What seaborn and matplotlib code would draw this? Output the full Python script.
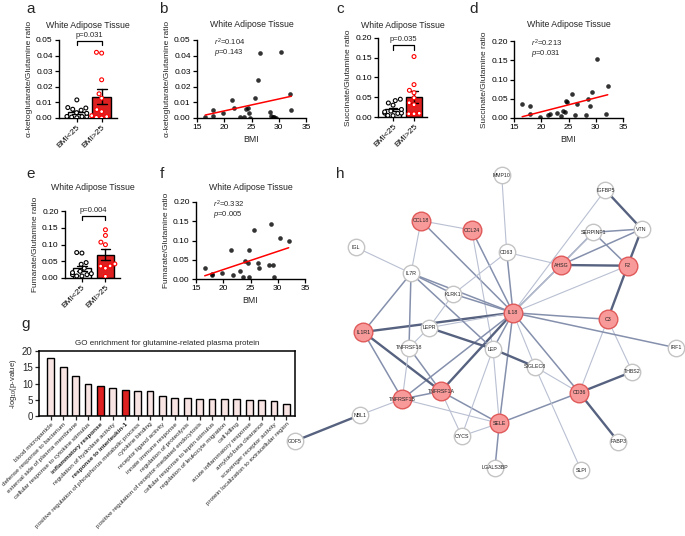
import numpy as np
import pandas as pd
import matplotlib
matplotlib.use("Agg")
import matplotlib.pyplot as plt
from matplotlib.ticker import FormatStrFormatter
import seaborn as sns

sns.set_theme(style="ticks")
plt.rcParams["font.family"] = ["Liberation Sans", "DejaVu Sans"]
plt.rcParams["mathtext.fontset"] = "custom"
plt.rcParams["mathtext.rm"] = "Liberation Sans"
plt.rcParams["mathtext.it"] = "Liberation Sans:italic"

# ---------------- Data ----------------
# alpha-ketoglutarate / glutamine (panels a, b)
akg_bmi = [16.5, 17.9, 17.9, 19.7, 21.4, 21.7, 22.8, 23.6, 24.0, 24.4, 24.6, 24.8,
           25.7, 26.2, 26.5, 28.4, 28.6, 28.9, 29.2, 29.5, 30.4, 32.0, 32.3]
akg_ratio = [0.0009, 0.005, 0.001, 0.003, 0.0116, 0.0064, 0.0009, 0.0006, 0.0056, 0.0067, 0.0034, 0.0002,
             0.0127, 0.0245, 0.0416, 0.0041, 0.0015, 0.0009, 0.0004, 0.0, 0.0421, 0.0155, 0.0054]

# succinate / glutamine (panels c, d)
suc_bmi = [16.5, 18.0, 18.0, 19.7, 21.3, 21.6, 22.8, 23.6, 23.9, 24.4, 24.5,
           24.7, 25.6, 26.2, 26.5, 28.2, 28.5, 29.0, 29.3, 30.3, 31.8, 32.2]
suc_ratio = [0.0355, 0.030, 0.010, 0.0035, 0.009, 0.010, 0.013, 0.004, 0.019, 0.015, 0.045,
             0.0415, 0.0615, 0.008, 0.036, 0.008, 0.0485, 0.031, 0.0675, 0.153, 0.0095, 0.082]

# fumarate / glutamine (panels e, f)
fum_bmi = [16.6, 18.0, 18.0, 19.8, 21.5, 21.8, 23.0, 23.7, 24.05, 24.6, 24.7,
           24.8, 25.7, 26.3, 26.6, 28.4, 28.7, 29.1, 29.4, 30.35, 32.0]
fum_ratio = [0.029, 0.013, 0.010, 0.016, 0.076, 0.010, 0.020, 0.006, 0.046, 0.041, 0.0745,
             0.006, 0.127, 0.042, 0.029, 0.0355, 0.144, 0.036, 0.005, 0.107, 0.0995]

groups = ["BMI<25", "BMI>25"]

# GO enrichment (panel g)
go_terms = ["blood microparticle", "defense response to bacterium", "external side of plasma membrane",
            "cellular response to cytokine stimulus", "inflammatory response", "regulation of hydrolase activity",
            "response to interleukin-1", "positive regulation of phosphorus metabolic process",
            "cytokine binding", "receptor ligand activity", "innate immune response",
            "regulation of proteolysis", "positive regulation of receptor-mediated endocytosis",
            "cellular response to leptin stimulus", "regulation of leukocyte migration", "cell killing",
            "acute inflammatory response", "amyloid-beta clearance", "scavenger receptor activity",
            "protein localization to extracellular region"]
go_logp = [17.9, 15.0, 12.3, 10.0, 9.1, 8.6, 8.1, 7.8, 7.8, 6.2,
           5.6, 5.5, 5.3, 5.3, 5.1, 5.1, 4.9, 4.8, 4.6, 3.8]
go_highlight = ["inflammatory response", "response to interleukin-1"]

# protein network (panel h)
node_names = ["MMP10", "IGFBP5", "CCL18", "CCL24", "SERPINF1", "VTN", "IGL", "CD63", "AHSG", "F2",
              "IL7R", "KLRK1", "IL18", "C3", "IL1R1", "LEPR", "TNFRSF18", "LEP", "IRF1", "SIGLEC8",
              "THBS2", "TNFRSF1A", "CD36", "TNFRSF1B", "NBL1", "SELE", "CYCS", "FABP3", "LGALS3BP",
              "SLPI", "GDF5"]
node_x = [501.7, 605.3, 421.0, 471.7, 593.3, 641.7, 356.0, 506.7, 561.0, 627.7,
          411.0, 453.3, 513.0, 607.7, 363.3, 429.0, 409.0, 493.0, 675.7, 535.0,
          632.3, 441.0, 579.3, 402.3, 360.0, 499.3, 461.7, 618.3, 495.0, 581.0, 295.0]
node_y = [175.0, 190.0, 220.7, 230.0, 232.3, 229.0, 247.3, 252.3, 265.0, 265.7,
          273.3, 294.0, 312.7, 319.3, 332.0, 327.7, 347.7, 349.0, 347.7, 366.7,
          371.7, 391.3, 392.7, 399.0, 415.0, 423.3, 436.0, 441.7, 467.7, 470.0, 441.0]
red_nodes = ["CCL18", "CCL24", "AHSG", "F2", "IL18", "C3", "IL1R1", "TNFRSF1A", "TNFRSF1B", "CD36", "SELE"]
edge_src = ["MMP10", "IGFBP5", "IGFBP5", "SERPINF1", "SERPINF1", "SERPINF1", "VTN", "VTN", "AHSG",
            "CCL18", "CCL18", "CCL18", "CCL24", "CCL24", "IGL", "CD63", "CD63", "CD63", "AHSG", "F2",
            "F2", "C3", "C3", "C3", "IL18", "IL18", "IL18", "IL18", "IL18", "IL18", "IL18", "IL18",
            "IL18", "IL18", "IL18", "LEP", "LEPR", "IL7R", "IL7R", "IL7R", "IL7R", "KLRK1", "IL1R1",
            "IL1R1", "LEPR", "TNFRSF18", "TNFRSF18", "TNFRSF1A", "TNFRSF1A", "TNFRSF1A", "TNFRSF1B",
            "TNFRSF1B", "NBL1", "SELE", "SELE", "SELE", "CYCS", "LEP", "SIGLEC8", "SIGLEC8", "CD36",
            "CD36", "IL18"]
edge_dst = ["CD63", "VTN", "IL18", "VTN", "AHSG", "F2", "F2", "AHSG", "F2",
            "CCL24", "IL7R", "IL18", "LEP", "IL18", "IL7R", "AHSG", "KLRK1", "IL18", "IL18", "IL18",
            "C3", "IL18", "CD36", "THBS2", "IRF1", "CD36", "SIGLEC8", "LEP", "SELE", "TNFRSF1A",
            "TNFRSF1B", "IL1R1", "LEPR", "KLRK1", "IL7R", "SIGLEC8", "LEP", "KLRK1", "IL1R1",
            "TNFRSF18", "LEP", "LEPR", "TNFRSF1A", "TNFRSF1B", "TNFRSF18", "TNFRSF1A", "TNFRSF1B",
            "TNFRSF1B", "CYCS", "SELE", "SELE", "NBL1", "GDF5", "CD36", "CYCS", "LGALS3BP", "LEP",
            "SELE", "CD36", "SLPI", "THBS2", "FABP3", "SERPINF1"]
edge_strength = [1, 3, 1, 2, 2, 2, 3, 2, 3,
                 1, 1, 2, 1, 2, 1, 1, 1, 2, 2, 1,
                 3, 2, 1, 1, 2, 2, 1, 2, 2, 3,
                 2, 3, 1, 2, 2, 3, 3, 2, 2,
                 2, 2, 1, 3, 2, 1, 2, 1,
                 2, 1, 2, 1, 1, 3, 2, 1, 2, 1,
                 1, 1, 1, 3, 3, 1]

# ---------------- Helpers ----------------
W, H = 685, 536
fig = plt.figure(figsize=(W / 100, H / 100), dpi=100)


def rect(l, t, r, b):
    return [l / W, 1 - b / H, (r - l) / W, (b - t) / H]


def ftext(x, y, s, **kw):
    fig.text(x / W, 1 - y / H, s, **kw)


def style_axis(ax):
    sns.despine(ax=ax)
    for s in ["left", "bottom"]:
        ax.spines[s].set_linewidth(1.0)
        ax.spines[s].set_color("black")
    ax.tick_params(length=3, width=0.9, labelsize=6, pad=1.5, colors="black")


def bar_panel(box, bmi, vals, ylim, ystep, ylabel, ptxt, br_top, br_low, title_y):
    ax = fig.add_axes(rect(*box))
    df = pd.DataFrame({"BMI": bmi, "ratio": vals})
    df["group"] = np.where(df["BMI"] < 25, "BMI<25", "BMI>25")
    sns.barplot(data=df, x="group", y="ratio", hue="group", order=groups, hue_order=groups,
                palette={"BMI<25": "white", "BMI>25": "#ff0000"}, errorbar="se", capsize=0.4,
                err_kws={"color": "black", "linewidth": 1.0}, edgecolor="black", linewidth=1.0,
                width=0.75, legend=False, ax=ax)
    n0 = len(ax.collections)
    sns.swarmplot(data=df, x="group", y="ratio", hue="group", order=groups, hue_order=groups,
                  palette={"BMI<25": "black", "BMI>25": "#ff0000"}, size=2.8, legend=False,
                  warn_thresh=1, ax=ax)
    for coll in ax.collections[n0:]:
        fc = coll.get_facecolor()
        coll.set_edgecolor(fc)
        coll.set_facecolor("white")
        coll.set_linewidth(0.8)
    ax.set_xlim(-0.72, 1.62)
    ax.set_ylim(*ylim)
    ax.set_yticks(np.arange(0, ylim[1] + ystep / 2, ystep))
    ax.yaxis.set_major_formatter(FormatStrFormatter("%.2f"))
    ax.set_xlabel("")
    ax.set_ylabel(ylabel, fontsize=6, labelpad=2)
    style_axis(ax)
    ax.set_xticks([0, 1])
    ax.set_xticklabels(groups, rotation=45, ha="right", rotation_mode="anchor", fontsize=6)
    ax.plot([0, 0, 1, 1], [br_low, br_top, br_top, br_low], color="black", lw=0.9, clip_on=False)
    ax.text(0.5, br_top + (ylim[1] - ylim[0]) * 0.03, ptxt, ha="center", va="bottom", fontsize=5.5)
    ftext((box[0] + box[2]) / 2, title_y, "White Adipose Tissue", ha="center", va="center", fontsize=6.3)
    return ax


def scatter_panel(box, bmi, vals, ylim, ystep, ylabel, r2, pval):
    ax = fig.add_axes(rect(*box))
    sns.regplot(x=bmi, y=vals, ci=None, truncate=True,
                scatter_kws={"s": 11, "color": "black", "linewidths": 0},
                line_kws={"color": "#ff0000", "linewidth": 1.1}, ax=ax)
    ax.set_xlim(15, 35)
    ax.set_xticks([15, 20, 25, 30, 35])
    ax.set_ylim(*ylim)
    ax.set_yticks(np.arange(0, ylim[1] + ystep / 2, ystep))
    ax.yaxis.set_major_formatter(FormatStrFormatter("%.2f"))
    ax.set_xlabel("BMI", fontsize=6.3, labelpad=3)
    ax.set_ylabel(ylabel, fontsize=6, labelpad=2)
    style_axis(ax)
    ax.text(0.16, 0.97, r"$r^2$=" + r2, transform=ax.transAxes, fontsize=5.5, va="center")
    ax.text(0.16, 0.84, r"$p$=" + pval, transform=ax.transAxes, fontsize=5.5, va="center")
    ftext((box[0] + box[2]) / 2, 24.5 if box[1] < 100 else 188, "White Adipose Tissue",
          ha="center", va="center", fontsize=6.3)
    return ax


# ---------------- Panels a-f ----------------
bar_panel((59, 40, 117, 118), akg_bmi, akg_ratio, (0, 0.05), 0.01,
          "α-ketoglutarate/Glutamine ratio", "p=0.031", 0.0492, 0.0465, 25)
scatter_panel((197, 40, 306, 118), akg_bmi, akg_ratio, (0, 0.05), 0.01,
              "α-ketoglutarate/Glutamine ratio", "0.104", "0.143")
bar_panel((378, 38, 427, 117), suc_bmi, suc_ratio, (0, 0.20), 0.05,
          "Succinate/Glutamine ratio", "p=0.035", 0.182, 0.170, 25)
scatter_panel((514, 41, 623, 118), suc_bmi, suc_ratio, (0, 0.20), 0.05,
              "Succinate/Glutamine ratio", "0.213", "0.031")
bar_panel((65, 211, 120, 278), fum_bmi, fum_ratio, (0, 0.20), 0.05,
          "Fumarate/Glutamine ratio", "p=0.004", 0.186, 0.173, 188)
scatter_panel((196, 202, 305, 279), fum_bmi, fum_ratio, (0, 0.20), 0.05,
              "Fumarate/Glutamine ratio", "0.332", "0.005")

# ---------------- Panel g ----------------
axg = fig.add_axes(rect(39, 351, 295, 416))
go_df = pd.DataFrame({"term": go_terms, "logp": go_logp})
go_colors = {t: ("#ff0000" if t in go_highlight else "#fde0e0") for t in go_terms}
sns.barplot(data=go_df, x="term", y="logp", hue="term", palette=go_colors, order=go_terms,
            edgecolor="black", linewidth=1.0, width=0.55, legend=False, ax=axg)
axg.set_xlim(-0.95, 19.7)
axg.set_ylim(0, 20)
axg.set_yticks([0, 5, 10, 15, 20])
axg.set_xlabel("")
axg.set_ylabel(r"-log$_{10}$(p-value)", fontsize=5.5, labelpad=2)
for s in axg.spines.values():
    s.set_linewidth(1.1)
    s.set_color("black")
axg.tick_params(axis="y", length=3, width=0.9, labelsize=7, pad=1.5)
axg.tick_params(axis="x", length=3, width=0.9, pad=1)
axg.set_xticks(range(len(go_terms)))
axg.set_xticklabels(go_terms, rotation=45, ha="right", rotation_mode="anchor", fontsize=4.6)
for lab in axg.get_xticklabels():
    if lab.get_text() in go_highlight:
        lab.set_fontweight("bold")
axg.set_title("GO enrichment for glutamine-related plasma protein", fontsize=5.8, pad=4)

# ---------------- Panel h ----------------
axh = fig.add_axes(rect(280, 160, 685, 500))
axh.set_xlim(280, 685)
axh.set_ylim(500, 160)
axh.axis("off")
pos = dict(zip(node_names, zip(node_x, node_y)))
edge_col = {1: "#b9c0d2", 2: "#8590ad", 3: "#56627f"}
edge_lw = {1: 0.8, 2: 1.1, 3: 1.7}
for a, b, k in zip(edge_src, edge_dst, edge_strength):
    axh.plot([pos[a][0], pos[b][0]], [pos[a][1], pos[b][1]], color=edge_col[k],
             lw=edge_lw[k], zorder=1, solid_capstyle="butt")
nodes = pd.DataFrame({"name": node_names, "x": node_x, "y": node_y})
nodes["red"] = nodes["name"].isin(red_nodes)
sns.scatterplot(data=nodes[~nodes["red"]], x="x", y="y", s=140, color="white",
                edgecolor="#c4c4c4", linewidth=1.0, zorder=2, ax=axh)
sns.scatterplot(data=nodes[nodes["red"]], x="x", y="y", s=180, color="#f89a9a",
                edgecolor="#e05a5a", linewidth=1.0, zorder=2, ax=axh)
for _, r in nodes.iterrows():
    axh.text(r["x"], r["y"], r["name"], ha="center", va="center", fontsize=3.8,
             color="#222222", zorder=3)
axh.set_xlabel("")
axh.set_ylabel("")

# ---------------- Panel letters ----------------
for letter, x, y in [("a", 31, 9), ("b", 163, 9), ("c", 340, 9), ("d", 474, 9),
                     ("e", 31, 174), ("f", 162, 174), ("g", 26, 324), ("h", 340, 174)]:
    ftext(x, y, letter, ha="center", va="center", fontsize=11)

fig.savefig("out.png", dpi=100)
